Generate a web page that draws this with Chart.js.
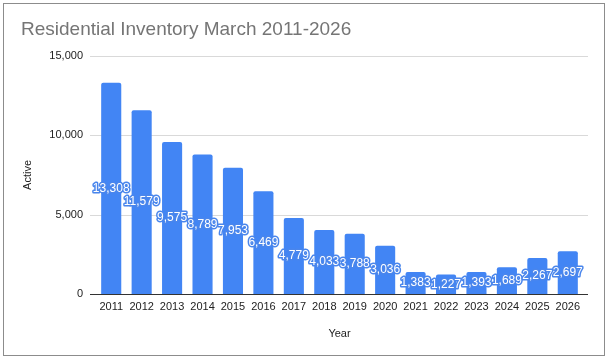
<!DOCTYPE html>
<html>
<head>
<meta charset="utf-8">
<script src="https://cdn.jsdelivr.net/npm/chart.js@4"></script>
<style>
  html, body { margin: 0; padding: 0; background: #fff; }
  #wrap { position: relative; width: 607px; height: 360px; overflow: hidden; }
  #frame { position: absolute; left: 3px; top: 3px; width: 600px; height: 351px; border: 1px solid #8c8c8c; pointer-events: none; }
  canvas { position: absolute; left: 0; top: 0; }
</style>
</head>
<body>
<div id="wrap">
  <canvas id="chart" width="607" height="360"></canvas>
  <div id="frame"></div>
</div>
<script>
const YEARS = ['2011', '2012', '2013', '2014', '2015', '2016', '2017', '2018', '2019', '2020', '2021', '2022', '2023', '2024', '2025', '2026'];
const ACTIVE = [13308, 11579, 9575, 8789, 7953, 6469, 4779, 4033, 3788, 3036, 1383, 1227, 1393, 1689, 2267, 2697];
const Y_TICKS = [0, 5000, 10000, 15000];

const BAR_BLUE = '#4285f4';
const FONT = 'Arial, "Liberation Sans", sans-serif';

// gridlines a bit wider than the plot, like the sheets chart
const gridPlugin = {
  id: 'sheetGrid',
  beforeDatasetsDraw(chart) {
    const { ctx, chartArea, scales } = chart;
    ctx.save();
    scales.y.ticks.forEach((tick) => {
      const y = Math.round(scales.y.getPixelForValue(tick.value)) + 0.5;
      ctx.strokeStyle = tick.value === 0 ? '#333333' : '#d9d9d9';
      ctx.lineWidth = 1;
      ctx.beginPath();
      ctx.moveTo(chartArea.left - 6, y);
      ctx.lineTo(chartArea.right + 5, y);
      ctx.stroke();
    });
    ctx.restore();
  }
};

const labelPlugin = {
  id: 'barLabels',
  afterDatasetsDraw(chart) {
    const { ctx } = chart;
    const meta = chart.getDatasetMeta(0);
    ctx.save();
    ctx.font = '12px ' + FONT;
    ctx.textAlign = 'center';
    ctx.textBaseline = 'middle';
    ctx.lineJoin = 'round';
    meta.data.forEach((bar, index) => {
      const text = ACTIVE[index].toLocaleString('en-US');
      const y = (bar.y + bar.base) / 2;
      ctx.strokeStyle = '#4a86ec';
      ctx.lineWidth = 3;
      ctx.strokeText(text, bar.x, y);
      ctx.fillStyle = '#ffffff';
      ctx.fillText(text, bar.x, y);
    });
    ctx.restore();
  }
};

new Chart(document.getElementById('chart').getContext('2d'), {
  type: 'bar',
  data: {
    labels: YEARS,
    datasets: [{
      label: 'Active',
      data: ACTIVE,
      backgroundColor: BAR_BLUE,
      borderRadius: { topLeft: 2, topRight: 2 },
      borderSkipped: 'bottom',
      categoryPercentage: 0.66,
      barPercentage: 1
    }]
  },
  options: {
    responsive: false,
    animation: false,
    devicePixelRatio: 1,
    layout: { padding: { left: 21, right: 24, top: 0, bottom: 0 } },
    plugins: {
      legend: { display: false },
      tooltip: { enabled: false },
      title: {
        display: true,
        text: 'Residential Inventory March 2011-2026',
        align: 'start',
        color: '#757575',
        font: { family: FONT, size: 19, weight: 'normal' },
        padding: { top: 18, bottom: 15 }
      }
    },
    scales: {
      x: {
        grid: { display: false, drawTicks: false },
        border: { display: false },
        ticks: { color: '#222222', font: { family: FONT, size: 11 }, padding: 6, maxRotation: 0, autoSkip: false },
        title: { display: true, text: 'Year', color: '#222222', font: { family: FONT, size: 11 }, padding: { top: 0, bottom: 19 } },
        afterFit: (scale) => { scale.height = 66; }
      },
      y: {
        min: 0,
        max: 15000,
        afterBuildTicks: (scale) => { scale.ticks = Y_TICKS.map((value) => ({ value })); },
        grid: { display: false, drawTicks: false },
        border: { display: false },
        ticks: {
          color: '#222222',
          font: { family: FONT, size: 11 },
          padding: 13,
          callback: (value) => Number(value).toLocaleString('en-US')
        },
        title: { display: true, text: 'Active', color: '#222222', font: { family: FONT, size: 11 }, padding: 0 },
        afterFit: (scale) => { scale.width = 75; }
      }
    }
  },
  plugins: [gridPlugin, labelPlugin]
});
</script>
</body>
</html>
